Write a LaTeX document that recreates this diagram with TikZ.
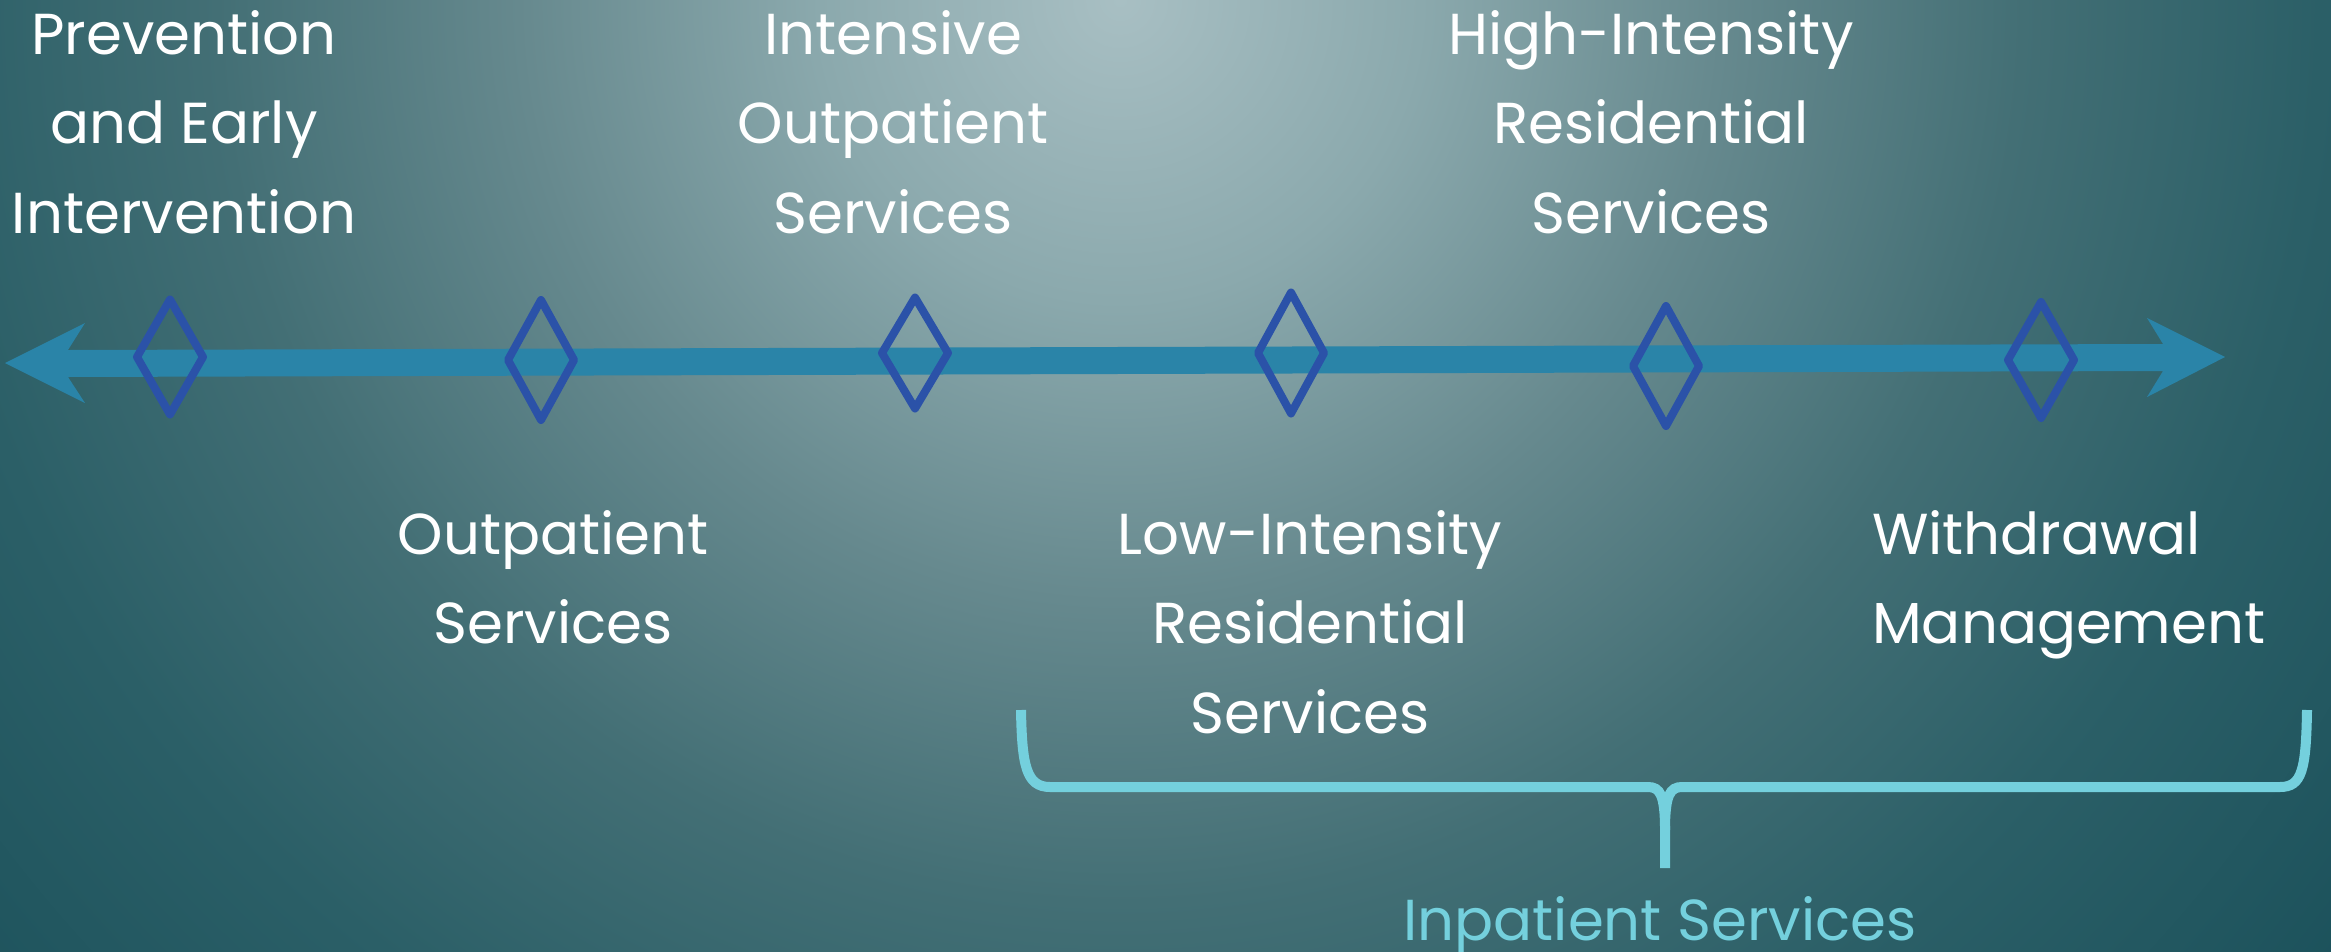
\documentclass[tikz,border=0pt]{standalone}
\usepackage{fontspec}
\setmainfont{Poppins}
\definecolor{bg0}{RGB}{168,191,195}
\definecolor{bg1}{RGB}{139,169,173}
\definecolor{bg2}{RGB}{102,137,142}
\definecolor{bg3}{RGB}{67,111,117}
\definecolor{bg4}{RGB}{43,95,103}
\definecolor{bg5}{RGB}{26,80,90}
\definecolor{arrowblue}{RGB}{42,132,168}
\definecolor{gemblue}{RGB}{43,82,168}
\definecolor{cyanb}{RGB}{116,208,221}
\pgfdeclareradialshading{bgshade}{\pgfpoint{0bp}{0bp}}{color(0bp)=(bg0); color(4.7bp)=(bg1); color(9.4bp)=(bg2); color(14.1bp)=(bg3); color(18.75bp)=(bg4); color(25bp)=(bg5); color(50bp)=(bg5)}
\begin{document}
\begin{tikzpicture}[x=1bp,y=-1bp,
  lbl/.style={text=white, font=\fontsize{58}{90}\selectfont, align=center, inner sep=0pt, execute at begin node=\strut},
  gem/.style={draw=gemblue, line width=8bp, line join=round},
  bracepath/.style={draw=cyanb, line width=10bp}]
\useasboundingbox (0,0) rectangle (2331,951);
\clip (0,0) rectangle (2331,951);
\shade[shading=bgshade] (1120,0) circle [radius=1600bp];
% timeline arrow
\coordinate (L) at (5,363);
\coordinate (R) at (2225,357);
\fill[arrowblue] (L) -- (85,323) -- (68,350) -- (2163,344) -- (2147,318) -- (R) -- (2147,397) -- (2163,371) -- (68,377) -- (85,403) -- cycle;
% diamonds
\foreach \x/\y/\h in {170/357/57.5, 541/360/60, 915/353/55.5, 1291/353/60.5, 1666/366/60, 2041/360/58}
  \draw[gem] (\x-33,\y) -- ++(33,-\h) -- ++(33,\h) -- ++(-33,\h) -- cycle;
% brace
\coordinate (bl) at (1021,710);
\coordinate (br) at (2307,710);
\coordinate (bt) at (1665,868);
\draw[bracepath] (bl) .. controls (1022,765) and (1026,787) .. (1050,787) -- (1648,787) .. controls (1660,787) and (1665,795) .. (1665,830) -- (bt);
\draw[bracepath] (1665,830) .. controls (1665,795) and (1670,787) .. (1682,787) -- (2280,787) .. controls (2302,787) and (2306,770) .. (br);
% labels
\node[lbl, anchor=north] (prev) at (184,10) {Prevention\\and Early\\Intervention};
\node[lbl, anchor=north] (iop) at (893,10) {Intensive\\Outpatient\\Services};
\node[lbl, anchor=north] (hir) at (1651,10) {High-Intensity\\Residential\\Services};
\node[lbl, anchor=north] (op) at (553,510) {Outpatient\\Services};
\node[lbl, anchor=north] (lir) at (1310,510) {Low-Intensity\\Residential\\Services};
\node[lbl, anchor=north west, align=left] (wm) at (1872,510) {Withdrawal\\Management};
\node[text=cyanb, font=\fontsize{58}{90}\selectfont, inner sep=0pt, anchor=base] (inp) at (1660,940) {Inpatient Services};
\end{tikzpicture}
\end{document}
